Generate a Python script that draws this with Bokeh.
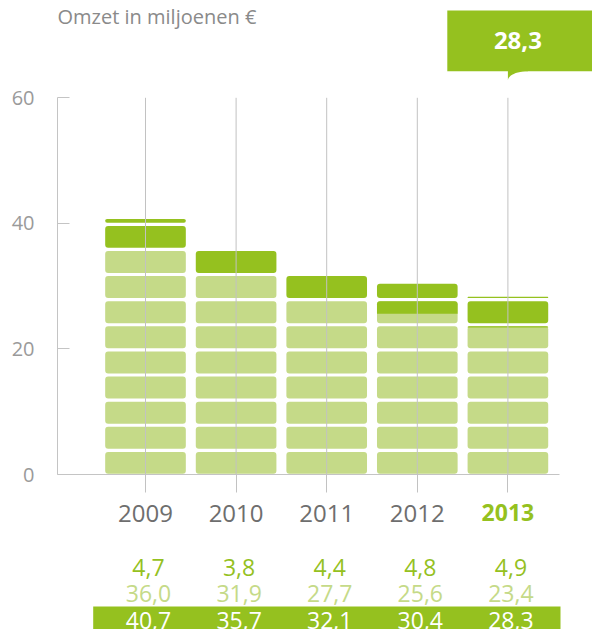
import math
from bokeh.plotting import figure
from bokeh.models import Range1d, LinearAxis, FixedTicker
from bokeh.embed import file_html
from bokeh.resources import INLINE
from bokeh.core.properties import value

# ---------------- data ----------------
years = [2009, 2010, 2011, 2012, 2013]
base_values = [36.0, 31.9, 27.7, 25.6, 23.4]      # light green part
extra_values = [4.7, 3.8, 4.4, 4.8, 4.9]          # dark green part
total_values = [40.7, 35.7, 32.1, 30.4, 28.3]
y_ticks = [0, 20, 40, 60]
title_text = "Omzet in miljoenen €"
highlight_year = 2013
highlight_value = 28.3

# ---------------- styles / geometry ----------------
W, H = 592, 629
SX = 90.6                      # px per year
SY = (474 - 97.3) / 60         # px per unit
X0_PX = 145                    # canvas px of first year
Y0_PX = 474                    # canvas px of y = 0

LIGHT = "#c5da88"
DARK = "#95c11f"
GRID = "#c2c2c2"
AXIS = "#c4c4c4"
FONT = "Open Sans"

x_start = years[0] - X0_PX / SX
x_end = x_start + W / SX
y_end = Y0_PX / SY
y_start = y_end - H / SY


def xd(px):
    return x_start + px / SX


def yd(py):
    return y_end - py / SY


def fmt(v):
    return f"{v:.1f}".replace(".", ",")


p = figure(width=W, height=H, output_backend="svg", toolbar_location=None,
           x_range=Range1d(x_start, x_end), y_range=Range1d(y_start, y_end),
           x_axis_location=None, y_axis_location=None, title=None,
           min_border=0, outline_line_color=None)
p.xgrid.visible = False
p.ygrid.visible = False
p.background_fill_color = "white"
p.border_fill_color = "white"

# ---------------- stacked block bars ----------------
STEP = 4.0
LO, HI = 0.1, 3.6
BAR_W = 0.89
light = dict(x=[], b=[], t=[])
dark_full = dict(x=[], b=[], t=[])
dark_part = dict(x=[], b=[], t=[])
for yr, base, extra in zip(years, base_values, extra_values):
    tot = base + extra
    for k in range(math.ceil(tot / STEP)):
        b = k * STEP + LO
        t = min(k * STEP + HI, tot)
        if t <= b:
            continue
        if base >= t:
            light["x"].append(yr); light["b"].append(b); light["t"].append(t)
        elif base <= b:
            dark_full["x"].append(yr); dark_full["b"].append(b); dark_full["t"].append(t)
        else:
            light["x"].append(yr); light["b"].append(b); light["t"].append(t)
            dark_part["x"].append(yr); dark_part["b"].append(base); dark_part["t"].append(t)

p.vbar(x=light["x"], bottom=light["b"], top=light["t"], width=BAR_W,
       fill_color=LIGHT, line_color=None, border_radius=3)
p.vbar(x=dark_full["x"], bottom=dark_full["b"], top=dark_full["t"], width=BAR_W,
       fill_color=DARK, line_color=None, border_radius=3)
p.vbar(x=dark_part["x"], bottom=dark_part["b"], top=dark_part["t"], width=BAR_W,
       fill_color=DARK, line_color=None, border_radius=(3, 3, 0, 0))

# vertical grid lines over the bars
p.segment(x0=years, y0=[y_ticks[0]] * len(years), x1=years, y1=[y_ticks[-1]] * len(years),
          line_color=GRID, line_width=1)

# ---------------- axes ----------------
yaxis = LinearAxis(fixed_location=xd(57), bounds=(y_ticks[0], y_ticks[-1]),
                   ticker=FixedTicker(ticks=y_ticks))
yaxis.axis_line_color = AXIS
yaxis.major_tick_line_color = AXIS
yaxis.major_tick_in = 12
yaxis.major_tick_out = 0
yaxis.minor_tick_line_color = None
yaxis.major_label_standoff = 23
yaxis.major_label_text_font = FONT
yaxis.major_label_text_font_size = "20px"
yaxis.major_label_text_color = "#9a9a9a"
p.add_layout(yaxis, "left")

xaxis = LinearAxis(fixed_location=0, bounds=(xd(57), xd(559)),
                   ticker=FixedTicker(ticks=years))
xaxis.axis_line_color = AXIS
xaxis.major_tick_line_color = GRID
xaxis.major_tick_in = 0
xaxis.major_tick_out = 18
xaxis.minor_tick_line_color = None
xaxis.major_label_standoff = 3
xaxis.major_label_text_font = FONT
xaxis.major_label_text_font_size = "24px"
xaxis.major_label_text_color = "#6e6e6e"
xaxis.major_label_overrides = {highlight_year: " "}
p.add_layout(xaxis, "below")

# highlighted year label
p.text(x=[highlight_year], y=[yd(512)], text=[str(highlight_year)],
       text_font=value(FONT), text_font_style="bold", text_font_size="23px",
       text_color=DARK, text_align="center", text_baseline="middle")

# ---------------- title ----------------
p.text(x=[xd(57)], y=[yd(15.5)], text=[title_text], text_font=value(FONT),
       text_font_size="20px", text_color="#8a8a8a", text_align="left",
       text_baseline="middle")

# ---------------- callout ----------------
p.quad(left=[highlight_year - 60.6 / SX], right=[x_end + 1], top=[yd(10)], bottom=[yd(70.7)],
       fill_color=DARK, line_color=None)
n = 12
tail_x = [highlight_year, highlight_year]
tail_y = [yd(70), yd(80)]
for i in range(n + 1):
    th = math.pi / 2 * i / n
    tail_x.append(highlight_year + (20 - 20 * math.cos(th)) / SX)
    tail_y.append(yd(70.7 + 9.3 * (1 - math.sin(th))))
tail_x.append(highlight_year + 20 / SX)
tail_y.append(yd(70))
p.patch(x=tail_x, y=tail_y, fill_color=DARK, line_color=None)
p.text(x=[highlight_year + 10 / SX], y=[yd(40)], text=[fmt(highlight_value)],
       text_font=value(FONT), text_font_style="bold", text_font_size="24px",
       text_color="white", text_align="center", text_baseline="middle")

# ---------------- value table ----------------
p.text(x=years, y=[yd(567)] * len(years), text=[fmt(v) for v in extra_values],
       text_font=value(FONT), text_font_size="23px", text_color=DARK,
       text_align="center", text_baseline="middle", x_offset=3)
p.text(x=years, y=[yd(593)] * len(years), text=[fmt(v) for v in base_values],
       text_font=value(FONT), text_font_size="23px", text_color=LIGHT,
       text_align="center", text_baseline="middle", x_offset=3)
p.quad(left=[xd(92.7)], right=[xd(560)], top=[yd(606)], bottom=[y_start - 1],
       fill_color=DARK, line_color=None)
p.text(x=years, y=[yd(620)] * len(years), text=[fmt(v) for v in total_values],
       text_font=value(FONT), text_font_size="23px", text_color="white",
       text_align="center", text_baseline="middle", x_offset=3)

open("out.html", "w").write(file_html(p, INLINE))
